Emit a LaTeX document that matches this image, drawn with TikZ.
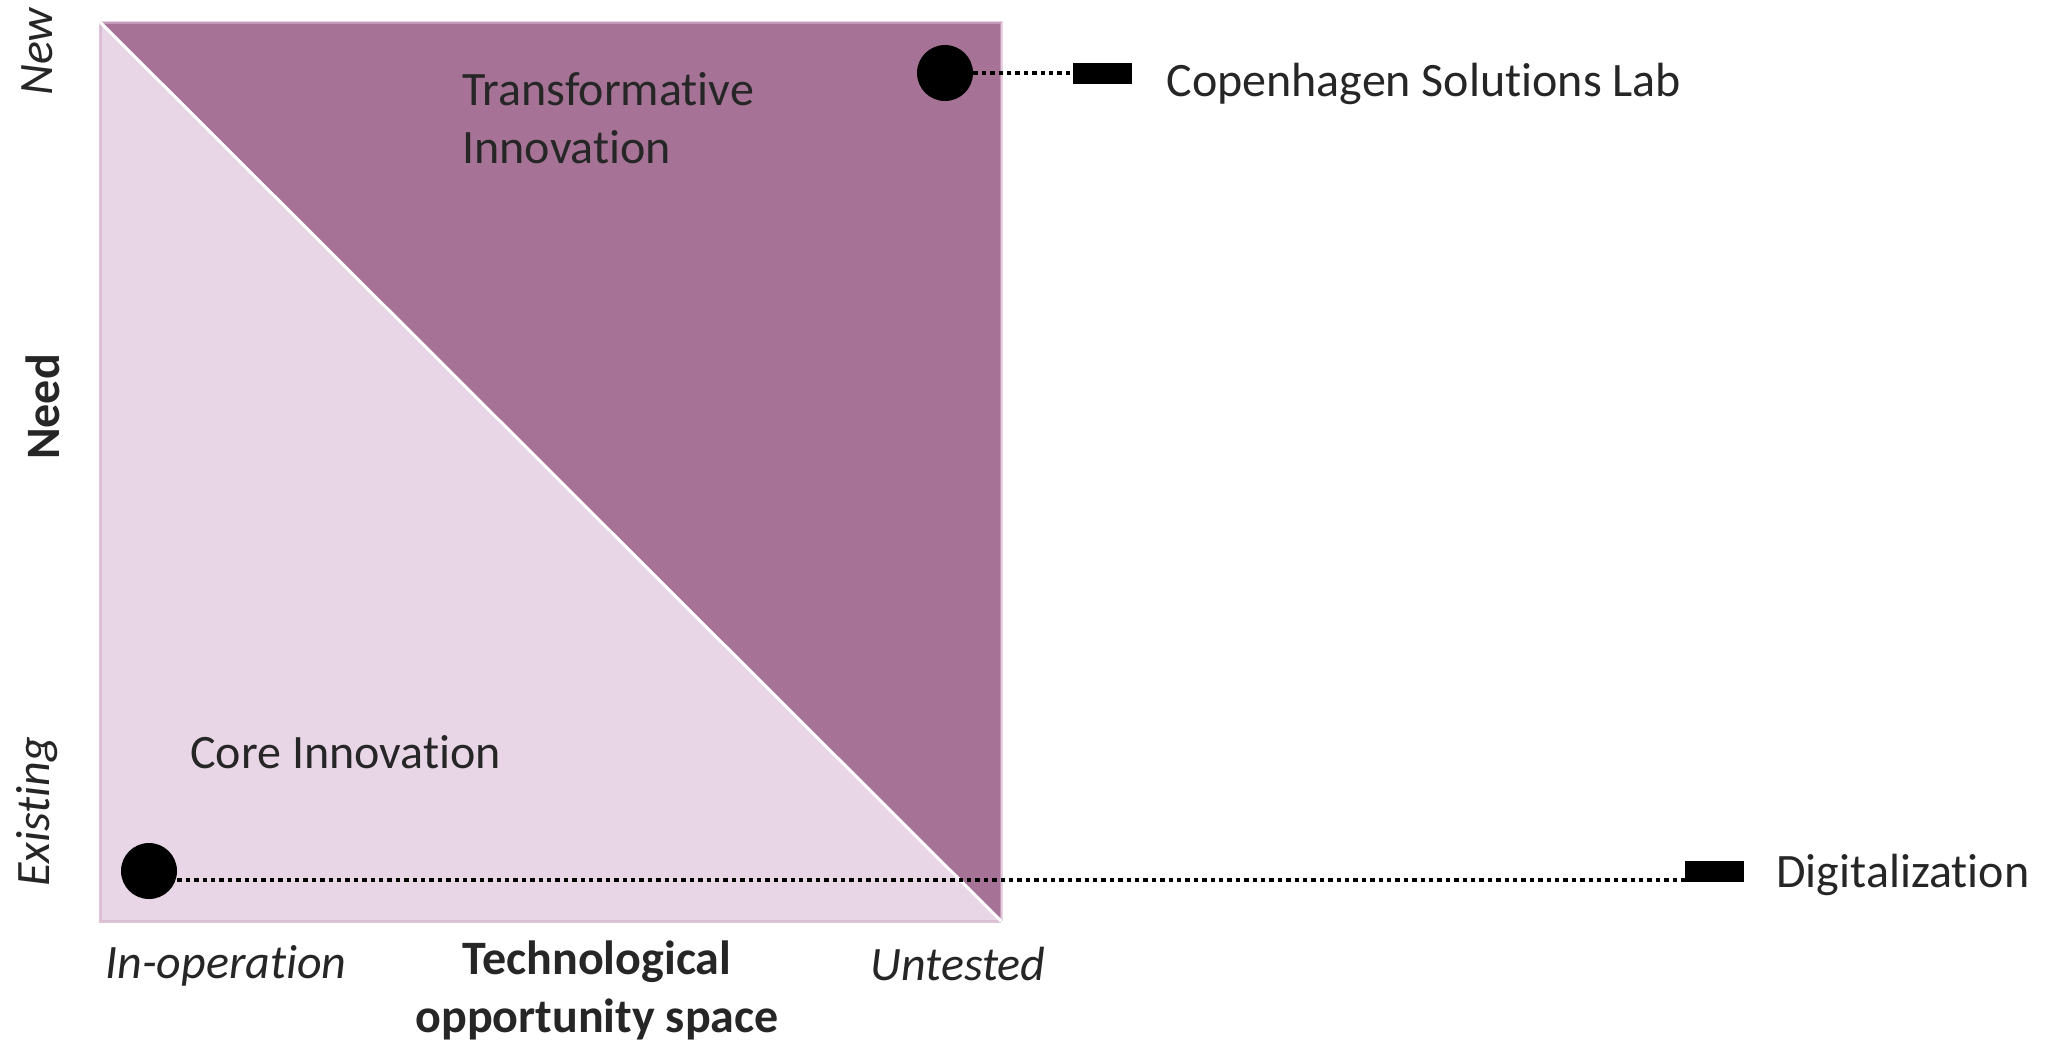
\documentclass[tikz,border=0pt]{standalone}
\usepackage{fontspec}
\setmainfont{Carlito}[Ligatures={NoCommon,NoContextual,NoRare}]
\newcommand\tisep{\kern0pt\relax}
\begin{document}
\begin{tikzpicture}[x=0.5pt,y=-0.5pt,
  txt/.style={inner sep=0pt, text=textgray, font=\fontsize{24pt}{29pt}\selectfont},
  dot/.style={circle, fill=black, inner sep=0pt, minimum size=28pt},
  marker/.style={fill=black, inner sep=0pt, minimum width=29.5pt, minimum height=10.5pt},
  dotline/.style={line width=2.2pt, dash pattern=on 2.2pt off 2pt},
  tri/.style={draw=edgecol, line width=1.5pt, line join=miter}]
\definecolor{darkp}{HTML}{A67396}
\definecolor{lightp}{HTML}{E8D5E6}
\definecolor{edgecol}{HTML}{D7B7CF}
\definecolor{textgray}{HTML}{262626}
\useasboundingbox (0,0) rectangle (2059,1041);
% triangles
\fill[lightp] (100,22) -- (100,921) -- (1001,921) -- cycle;
\fill[darkp] (100,22) -- (1001,22) -- (1001,921) -- cycle;
\draw[tri, draw opacity=0.8] (100,22) -- (100,921) -- (1001,921);
\draw[tri, draw opacity=0.6] (100,22) -- (1001,22) -- (1001,921);
\draw[white, line width=1.5pt] (100,22) -- (1001,921);
% dots and markers
\node[dot] (c1) at (945,73) {};
\node[dot] (c2) at (149,871) {};
\draw[dotline] (c1.east) -- (1090,73) coordinate (e1);
\draw[dotline] ([yshift=-4.5pt]c2.east) -- (1715,880) coordinate (e2);
\node[marker] (m1) at (1102,73) {};
\node[marker] (m2) at (1714,871) {};
\node[txt, anchor=west] (l1) at (1166,84) {Copenhagen Solut\tisep ions Lab};
\node[txt, anchor=west] (l2) at (1776,875) {Digitalizat\tisep ion};
% region labels
\node[txt, anchor=west, align=left] (tr) at (462,118) {Transformat\tisep ive\\Innovat\tisep ion};
\node[txt, anchor=west] (core) at (190,752) {Core Innovat\tisep ion};
% axes
\node[txt, rotate=90, font=\fontsize{24pt}{29pt}\selectfont\itshape] (new) at (37,52) {New};
\node[txt, rotate=90, font=\fontsize{24pt}{29pt}\selectfont\itshape] (ex) at (37,812) {Exist\tisep ing};
\node[txt, rotate=90, font=\fontsize{24pt}{29pt}\selectfont\bfseries] (need) at (43,407) {Need};
\node[txt, font=\fontsize{24pt}{29pt}\selectfont\itshape] (inop) at (226,966) {In-operat\tisep ion};
\node[txt, font=\fontsize{24pt}{29pt}\selectfont\itshape] (unt) at (958,964) {Untested};
\node[txt, align=center, font=\fontsize{24pt}{29pt}\selectfont\bfseries] (tech) at (597,990) {Technological\\opportunity space};
\end{tikzpicture}
\end{document}
